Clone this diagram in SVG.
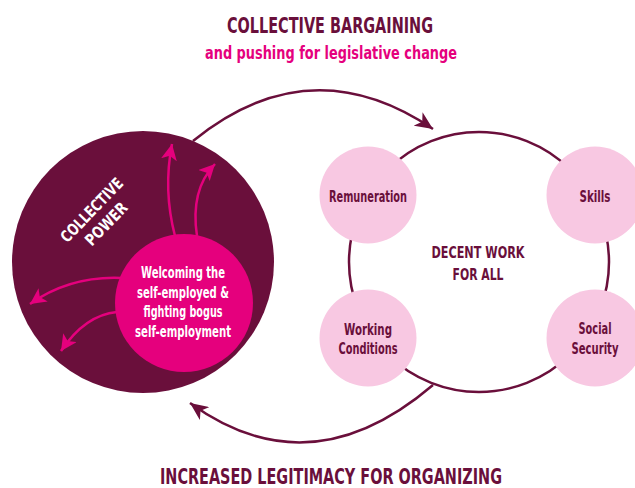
<svg xmlns="http://www.w3.org/2000/svg" width="635" height="488" viewBox="0 0 635 488">
<defs>
<style>
text{font-family:"Liberation Sans Narrow","DejaVu Sans Condensed","Liberation Sans",sans-serif;font-weight:bold;text-anchor:middle}
.dk{fill:#6a0f3b}
.wh{fill:#ffffff}
.pk{fill:#e5007d}
.lp{fill:#f8c8e2}
.conn-d{fill:none;stroke:#6a0f3b;stroke-width:2.5}
.conn-p{fill:none;stroke:#e5007d;stroke-width:2.5}
</style>
<marker id="ad" markerUnits="userSpaceOnUse" markerWidth="20" markerHeight="16" refX="18" refY="8" orient="auto">
<path d="M0,0 L18,8 L0,16 L5,8 z" fill="#6a0f3b"/>
</marker>
<marker id="ap" markerUnits="userSpaceOnUse" markerWidth="18" markerHeight="16" refX="16" refY="8" orient="auto">
<path d="M0,0 L16,8 L0,16 L4,8 z" fill="#e5007d"/>
</marker>
</defs>
<rect width="635" height="488" fill="#ffffff"/>

<g id="title">
<text x="330" y="33" font-size="22" class="dk" textLength="206" lengthAdjust="spacingAndGlyphs">COLLECTIVE BARGAINING</text>
<text x="331" y="59" font-size="18" class="pk" textLength="252" lengthAdjust="spacingAndGlyphs">and pushing for legislative change</text>
</g>

<g id="collective-power">
<circle cx="143" cy="262" r="131" class="dk"/>
<g transform="translate(98,216) rotate(-46)">
<text x="0" y="-3" font-size="16" class="wh" textLength="82" lengthAdjust="spacingAndGlyphs">COLLECTIVE</text>
<text x="0" y="17" font-size="16" class="wh" textLength="53" lengthAdjust="spacingAndGlyphs">POWER</text>
</g>
</g>

<g id="welcoming">
<circle cx="184" cy="303" r="69" class="pk"/>
<text x="183" y="278" font-size="16" class="wh" textLength="84" lengthAdjust="spacingAndGlyphs">Welcoming the</text>
<text x="183" y="298" font-size="16" class="wh" textLength="92" lengthAdjust="spacingAndGlyphs">self-employed &amp;</text>
<text x="183" y="317" font-size="16" class="wh" textLength="79" lengthAdjust="spacingAndGlyphs">fighting bogus</text>
<text x="183" y="337" font-size="16" class="wh" textLength="96" lengthAdjust="spacingAndGlyphs">self-employment</text>
</g>

<g id="decent-work">
<circle cx="479" cy="262" r="130" fill="none" stroke="#6a0f3b" stroke-width="2.5"/>
<text x="478" y="258" font-size="16" class="dk" textLength="93" lengthAdjust="spacingAndGlyphs">DECENT WORK</text>
<text x="478" y="280" font-size="16" class="dk" textLength="51" lengthAdjust="spacingAndGlyphs">FOR ALL</text>
</g>

<g id="remuneration">
<circle cx="368" cy="195" r="48.5" class="lp"/>
<text x="368" y="202" font-size="15" class="dk" textLength="78" lengthAdjust="spacingAndGlyphs">Remuneration</text>
</g>
<g id="skills">
<circle cx="595" cy="195" r="48.5" class="lp"/>
<text x="595" y="202" font-size="15" class="dk" textLength="31" lengthAdjust="spacingAndGlyphs">Skills</text>
</g>
<g id="working-conditions">
<circle cx="368" cy="338" r="48.5" class="lp"/>
<text x="368" y="335" font-size="15" class="dk" textLength="48" lengthAdjust="spacingAndGlyphs">Working</text>
<text x="368" y="354" font-size="15" class="dk" textLength="59" lengthAdjust="spacingAndGlyphs">Conditions</text>
</g>
<g id="social-security">
<circle cx="595" cy="338" r="48.5" class="lp"/>
<text x="595" y="334" font-size="15" class="dk" textLength="33" lengthAdjust="spacingAndGlyphs">Social</text>
<text x="595" y="354" font-size="15" class="dk" textLength="47" lengthAdjust="spacingAndGlyphs">Security</text>
</g>

<g id="bottom-label">
<text x="331" y="484" font-size="21" class="dk" textLength="342" lengthAdjust="spacingAndGlyphs">INCREASED LEGITIMACY FOR ORGANIZING</text>
</g>

<g id="connectors">
<path class="conn-d" d="M193,141 Q310,46 433,129" marker-end="url(#ad)"/>
<path class="conn-d" d="M433,385 Q310,490 190,403" marker-end="url(#ad)"/>
<path class="conn-p" d="M175,236 Q163,190 172,144" marker-end="url(#ap)"/>
<path class="conn-p" d="M197,236 Q190,190 215,164" marker-end="url(#ap)"/>
<path class="conn-p" d="M121,278 Q70,276 30,304" marker-end="url(#ap)"/>
<path class="conn-p" d="M117,312 Q85,315 61,351" marker-end="url(#ap)"/>
</g>
</svg>
